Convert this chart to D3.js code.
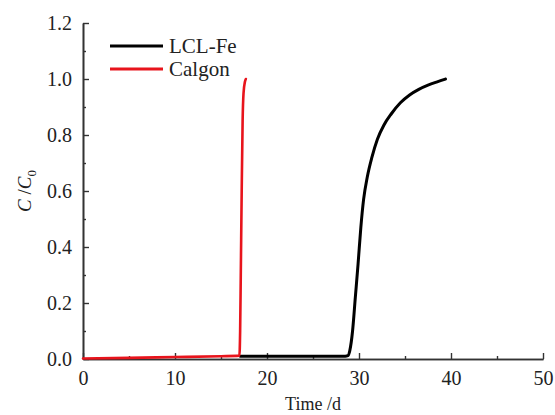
<!DOCTYPE html>
<html>
<head>
<meta charset="utf-8">
<script src="https://cdn.jsdelivr.net/npm/d3@7"></script>
<style>
  body { margin: 0; background: #fff; }
  svg text { font-family: "Liberation Serif", "DejaVu Serif", "Times New Roman", Times, serif; fill: #222; }
</style>
</head>
<body>
<div id="chart"></div>
<script>
// breakthrough curves
var calgonTime = [0, 5, 10, 15, 17.0, 17.08, 17.15, 17.25, 17.35, 17.45, 17.6, 17.7];
var calgonC    = [0.002, 0.004, 0.007, 0.01, 0.012, 0.1, 0.3, 0.6, 0.85, 0.95, 0.99, 1.0];

var lclTime = [17.1, 20, 25, 28.5, 28.8, 29.0, 29.3, 29.6, 29.9, 30.2, 30.5, 30.9, 31.4, 32.0, 32.7, 33.5, 34.5, 35.5, 36.5, 37.5, 38.5, 39.4];
var lclC    = [0.01, 0.01, 0.01, 0.01, 0.012, 0.03, 0.10, 0.22, 0.34, 0.47, 0.57, 0.65, 0.72, 0.785, 0.835, 0.875, 0.915, 0.943, 0.963, 0.978, 0.99, 1.0];

var seriesNames = ["LCL-Fe", "Calgon"];
var seriesColors = ["#000000", "#e8141c"];

var xMajor = [0, 10, 20, 30, 40, 50];
var xMinor = [5, 15, 25, 35, 45];
var yMajor = [0, 0.2, 0.4, 0.6, 0.8, 1.0, 1.2];
var yMinor = [0.1, 0.3, 0.5, 0.7, 0.9, 1.1];

var W = 555, H = 415;
var margin = {left: 83, right: 12, top: 23, bottom: 56};
var serif = "'Liberation Serif', 'DejaVu Serif', 'Times New Roman', Times, serif";

var svg = d3.select("#chart").append("svg")
  .attr("width", W).attr("height", H);

var x = d3.scaleLinear().domain([0, 50]).range([margin.left, W - margin.right]);
var y = d3.scaleLinear().domain([0, 1.2]).range([H - margin.bottom, margin.top]);

var axisColor = "#333";

// x axis (ticks point inward)
var gx = svg.append("g").attr("transform", "translate(0," + y(0) + ")");
gx.call(d3.axisBottom(x).tickValues(xMajor).tickSizeInner(-6).tickSizeOuter(0).tickPadding(12)
  .tickFormat(d3.format("d")));
gx.append("g").call(d3.axisBottom(x).tickValues(xMinor).tickSizeInner(-3).tickSizeOuter(0).tickFormat(""));

// y axis
var gy = svg.append("g").attr("transform", "translate(" + x(0) + ",0)");
gy.call(d3.axisLeft(y).tickValues(yMajor).tickSizeInner(-6).tickSizeOuter(0).tickPadding(11)
  .tickFormat(d3.format(".1f")));
gy.append("g").call(d3.axisLeft(y).tickValues(yMinor).tickSizeInner(-3).tickSizeOuter(0).tickFormat(""));

svg.selectAll("g").attr("font-family", serif);
svg.selectAll(".domain").attr("stroke", axisColor).attr("stroke-width", 1.6);
svg.selectAll(".tick line").attr("stroke", axisColor).attr("stroke-width", 1.4);
svg.selectAll(".tick text")
  .style("font-family", serif)
  .style("font-size", "20px").attr("fill", "#222");

// axis titles
svg.append("text")
  .attr("x", (x(0) + x(50)) / 2).attr("y", 410)
  .attr("text-anchor", "middle").style("font-size", "18px")
  .style("font-family", serif)
  .text("Time /d");

var yl = svg.append("text")
  .attr("transform", "translate(31," + ((y(0) + y(1.2)) / 2) + ") rotate(-90)")
  .attr("text-anchor", "middle").style("font-size", "19px")
  .style("font-family", serif);
yl.append("tspan").style("font-style", "italic").text("C");
yl.append("tspan").text(" /");
yl.append("tspan").style("font-style", "italic").text("C");
yl.append("tspan").attr("dy", 5).style("font-size", "13px").text("0");

// curves
var line = d3.line()
  .x(function(d) { return x(d[0]); })
  .y(function(d) { return y(d[1]); })
  .curve(d3.curveMonotoneX);

var lclData = d3.zip(lclTime, lclC);
var calgonData = d3.zip(calgonTime, calgonC);

svg.append("path").datum(lclData)
  .attr("fill", "none").attr("stroke", seriesColors[0]).attr("stroke-width", 3)
  .attr("stroke-linecap", "round").attr("stroke-linejoin", "round").attr("d", line);

svg.append("path").datum(calgonData)
  .attr("fill", "none").attr("stroke", seriesColors[1]).attr("stroke-width", 2.6)
  .attr("stroke-linecap", "round").attr("stroke-linejoin", "round").attr("d", line);

// legend
var legend = svg.append("g");
seriesNames.forEach(function(name, i) {
  var ly = 46 + i * 23;
  legend.append("line")
    .attr("x1", 110).attr("x2", 163).attr("y1", ly).attr("y2", ly)
    .attr("stroke", seriesColors[i]).attr("stroke-width", 3);
  legend.append("text")
    .attr("x", 169).attr("y", ly + 7)
    .style("font-size", "21px")
    .style("font-family", serif)
    .text(name);
});
</script>
</body>
</html>
